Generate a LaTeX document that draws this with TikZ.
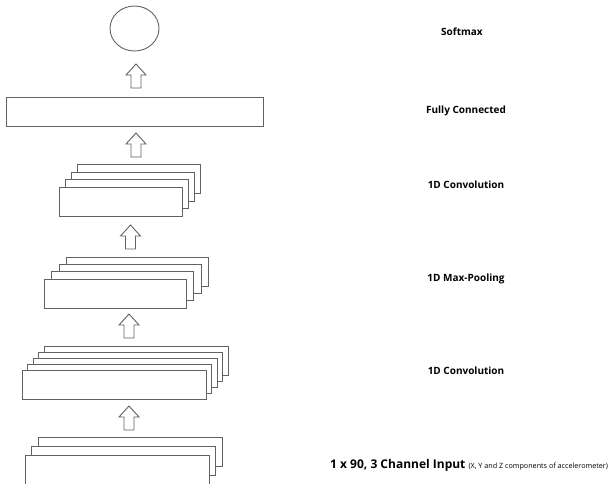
\documentclass[tikz,border=0pt]{standalone}
\usepackage{fontspec}
\setmainfont{Open Sans}
\usetikzlibrary{shapes.geometric,calc}
\definecolor{linegray}{RGB}{98,98,98}
\tikzset{
  layer/.style={draw=linegray, fill=white, line width=0.9pt, minimum height=29pt, inner sep=0pt},
  tag/.style={font=\bfseries\fontsize{10}{12}\selectfont, text=black},
  uparrow/.pic={
    \draw[linegray, fill=white, line width=0.9pt] (-5,0) -- (-5,-13) -- (-10,-13) -- (0,-24) -- (10,-13) -- (5,-13) -- (5,0) -- cycle;
  }
}
\begin{document}
\begin{tikzpicture}[x=1pt, y=-1pt]
  \useasboundingbox (0,0) rectangle (613,483);
  \begin{scope}
  \clip (0,0) rectangle (613,483);

  % Softmax output
  \node[ellipse, draw=linegray, line width=0.9pt, minimum width=49pt, minimum height=45pt, inner sep=0pt] (softmax) at (134.5,28.5) {};
  \pic at (136,88) {uparrow};

  % Fully connected layer
  \node[layer, minimum width=257pt] (fc) at (134.5,111.5) {};
  \pic at (136,157) {uparrow};

  % 1D convolution (upper)
  \foreach \i in {3,2,1}
    \node[layer, minimum width=123pt] at (120.5+6*\i, 201.5-7.5*\i) {};
  \node[layer, minimum width=123pt] (convb) at (120.5,201.5) {};
  \pic at (130.5,249) {uparrow};

  % 1D max-pooling
  \foreach \i in {3,2,1}
    \node[layer, minimum width=142pt] at (115+7.6*\i, 293.5-7.3*\i) {};
  \node[layer, minimum width=142pt] (pool) at (115,293.5) {};
  \pic at (129,338) {uparrow};

  % 1D convolution (lower)
  \foreach \i in {4,3,2,1}
    \node[layer, minimum width=184pt] at (114+5.5*\i, 384.5-6*\i) {};
  \node[layer, minimum width=184pt] (conva) at (114,384.5) {};
  \pic at (129,430) {uparrow};

  % Input channels
  \foreach \i in {2,1}
    \node[layer, minimum width=184pt] at (117+6.5*\i, 469.5-9*\i) {};
  \node[layer, minimum width=184pt] (input) at (117,469.5) {};
  \end{scope}

  % Labels
  \node[tag] (lsoftmax) at (462,32) {Softmax};
  \node[tag] (lfc) at (466,111) {Fully Connected};
  \node[tag] (lconvb) at (466,185) {1D Convolution};
  \node[tag] (lpool) at (466,279) {1D Max-Pooling};
  \node[tag] (lconva) at (466,371) {1D Convolution};
  \node[tag, font=\bfseries\fontsize{12}{14}\selectfont, anchor=west, inner sep=0pt] (linput) at (330,465) {1 x 90, 3 Channel Input {\mdseries\fontsize{7.2}{8}\selectfont(X, Y and Z components of accelerometer)}};
\end{tikzpicture}
\end{document}
